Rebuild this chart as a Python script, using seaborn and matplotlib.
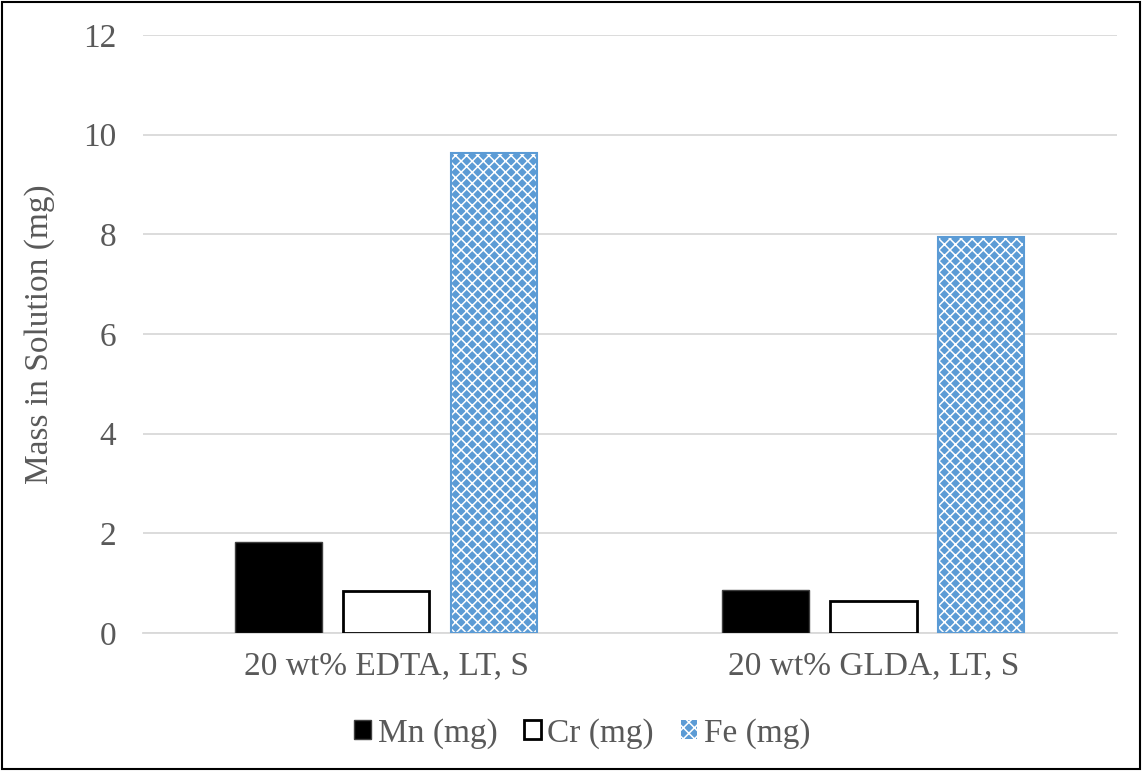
import matplotlib
matplotlib.use("Agg")
import matplotlib.pyplot as plt
import seaborn as sns
import pandas as pd
from matplotlib.patches import Rectangle

categories = ["20 wt% EDTA, LT, S", "20 wt% GLDA, LT, S"]
series = ["Mn (mg)", "Cr (mg)", "Fe (mg)"]
mn_values = [1.83, 0.86]
cr_values = [0.84, 0.64]
fe_values = [9.64, 7.95]
y_ticks = [0, 2, 4, 6, 8, 10, 12]

rows = []
for name, vals in zip(series, [mn_values, cr_values, fe_values]):
    for c, v in zip(categories, vals):
        rows.append({"cat": c, "series": name, "value": v})
df = pd.DataFrame(rows)

sns.set_theme(style="white")
plt.rcParams["font.family"] = ["Liberation Serif", "DejaVu Serif"]
plt.rcParams["hatch.linewidth"] = 1.1

TEXT = "#595959"
FS = 24
fig = plt.figure(figsize=(11.42, 7.71), dpi=100)
ax = fig.add_axes([0.125, 0.179, 0.853, 0.7756])

palette = {"Mn (mg)": "black", "Cr (mg)": "white", "Fe (mg)": "#5B9BD5"}
sns.barplot(data=df, x="cat", y="value", hue="series", hue_order=series,
            order=categories, palette=palette, width=0.665, gap=0.2,
            ax=ax, legend=False, saturation=1)

styles = [
    dict(facecolor="black", edgecolor="#404040", linewidth=1.0, hatch=None),
    dict(facecolor="white", edgecolor="black", linewidth=2.0, hatch=None),
    dict(facecolor="#5B9BD5", edgecolor="white", linewidth=0, hatch="xxx"),
]
for cont, st in zip(ax.containers, styles):
    for p in cont:
        p.set_facecolor(st["facecolor"])
        p.set_edgecolor(st["edgecolor"])
        p.set_linewidth(st["linewidth"])
        if st["hatch"]:
            p.set_hatch(st["hatch"])
        p.set_zorder(3)
for p in ax.containers[2]:
    ax.add_patch(Rectangle(p.get_xy(), p.get_width(), p.get_height(),
                           fill=False, edgecolor="#5B9BD5", linewidth=1.5, zorder=4))

ax.set_ylim(0, 12)
ax.set_yticks(y_ticks)
ax.set_yticklabels([str(t) for t in y_ticks])
ax.yaxis.grid(True, color="#D9D9D9", linewidth=1.3, zorder=0)
ax.set_axisbelow(True)
for s in ["top", "right", "left"]:
    ax.spines[s].set_visible(False)
ax.spines["bottom"].set_color("#D9D9D9")
ax.spines["bottom"].set_linewidth(1.3)
ax.tick_params(axis="both", length=0, labelsize=FS, labelcolor=TEXT)
ax.tick_params(axis="y", pad=19)
ax.tick_params(axis="x", pad=13)
ax.set_xlabel("")
ax.set_ylabel("Mass in Solution (mg)", fontsize=FS, color=TEXT, labelpad=20)

handles = []
for st in styles:
    h = Rectangle((0, 0), 1, 1, facecolor=st["facecolor"],
                  edgecolor=st["edgecolor"] if st["hatch"] is None else "white",
                  linewidth=st["linewidth"] if st["hatch"] is None else 0,
                  hatch=st["hatch"])
    handles.append(h)
leg = fig.legend(handles, series, loc="center", bbox_to_anchor=(0.51, 0.049),
                 ncol=3, frameon=False, fontsize=FS, handlelength=0.5,
                 handleheight=0.5, handletextpad=0.2, columnspacing=0.8)
for t in leg.get_texts():
    t.set_color(TEXT)

fig.patches.append(Rectangle((0.0015, 0.002), 0.997, 0.996, transform=fig.transFigure,
                             fill=False, edgecolor="black", linewidth=1.5))

fig.savefig("out.png", dpi=100)
